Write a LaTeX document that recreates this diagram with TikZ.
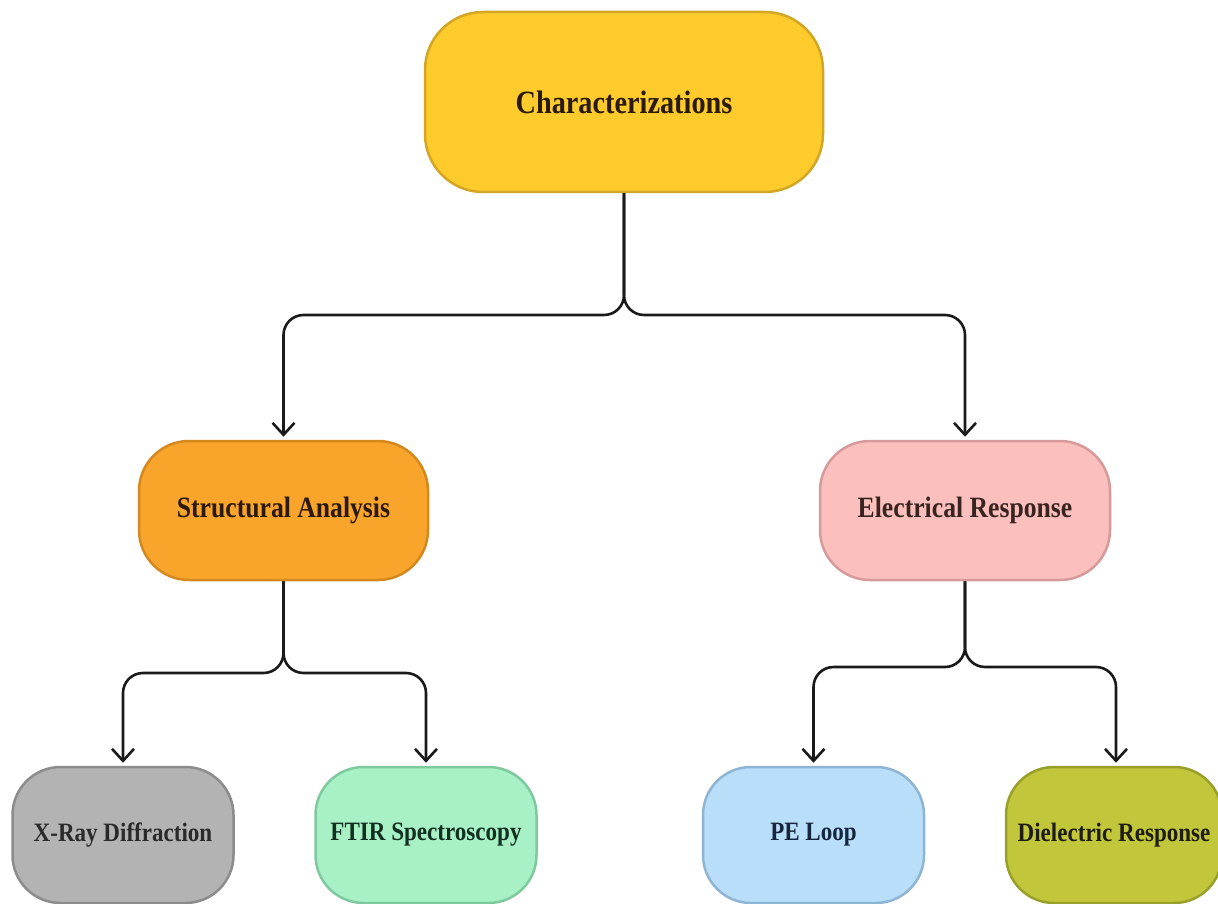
\documentclass[tikz,border=0pt]{standalone}
\usepackage{fontspec}
\newfontfamily\lbl[FakeStretch=0.87]{Liberation Serif}
\usetikzlibrary{arrows.meta}
\definecolor{topfill}{HTML}{FDCB2B}
\definecolor{topdraw}{HTML}{D3A626}
\definecolor{safill}{HTML}{F9A42B}
\definecolor{sadraw}{HTML}{D4891F}
\definecolor{erfill}{HTML}{FBC0BE}
\definecolor{erdraw}{HTML}{D69A9A}
\definecolor{xfill}{HTML}{B3B3B3}
\definecolor{xdraw}{HTML}{8C8C8C}
\definecolor{ffill}{HTML}{A8F0C6}
\definecolor{fdraw}{HTML}{7FC99F}
\definecolor{pfill}{HTML}{B9DEFA}
\definecolor{pdraw}{HTML}{8FB5D5}
\definecolor{dfill}{HTML}{C2C63A}
\definecolor{ddraw}{HTML}{98A02A}
\definecolor{linec}{HTML}{1A1A1A}
\definecolor{txtbrown}{HTML}{2B1A0C}
\definecolor{txter}{HTML}{3A2420}
\definecolor{txtgray}{HTML}{2A2A2A}
\definecolor{txtgreen}{HTML}{12301F}
\definecolor{txtblue}{HTML}{15263D}
\definecolor{txtdie}{HTML}{1E1C10}
\tikzset{
  box/.style={rectangle, inner sep=0pt, line width=2.5pt, font=\lbl\bfseries},
  topbox/.style={box, minimum width=398pt, minimum height=180pt, rounded corners=58pt, fill=topfill, draw=topdraw, text=txtbrown, font=\lbl\bfseries\fontsize{32.5}{32.5}\selectfont},
  midbox/.style={box, minimum width=289pt, minimum height=139pt, rounded corners=50pt, font=\lbl\bfseries\fontsize{29.5}{29.5}\selectfont},
  lowbox/.style={box, minimum width=221pt, minimum height=136pt, rounded corners=48pt, font=\lbl\bfseries\fontsize{26.5}{26.5}\selectfont},
  conn/.style={draw=linec, line width=2.6pt, rounded corners=20pt, -{Straight Barb[length=12pt,width=22pt]}, shorten >=3pt}
}
\begin{document}
\begin{tikzpicture}[x=1pt,y=-1pt]
\useasboundingbox (0,0) rectangle (1218,904);
\clip (0,0) rectangle (1218,904);
\fill[white] (0,0) rectangle (1218,904);
\node[topbox] (top) at (624,102) {Characterizations};
\node[midbox, fill=safill, draw=sadraw, text=txtbrown] (sa) at (283.5,510.5) {Structural Analysis};
\node[midbox, minimum width=290pt, fill=erfill, draw=erdraw, text=txter] (er) at (965,510.5) {Electrical Response};
\node[lowbox, fill=xfill, draw=xdraw, text=txtgray] (xrd) at (123,835) {X-Ray Diffraction};
\node[lowbox, fill=ffill, draw=fdraw, text=txtgreen] (ftir) at (426,835) {FTIR Spectroscopy};
\node[lowbox, fill=pfill, draw=pdraw, text=txtblue] (pe) at (813.5,835) {PE Loop};
\node[lowbox, minimum width=216pt, fill=dfill, draw=ddraw, text=txtdie] (die) at (1114,835) {Dielectric Response};
\coordinate (j1) at (624,315);
\coordinate (j2) at (283.5,673);
\coordinate (j3) at (965,667);
\draw[conn] (top.south) -- (j1) -| (sa.north);
\draw[conn] (top.south) -- (j1) -| (er.north);
\draw[conn] (sa.south) -- (j2) -| (xrd.north);
\draw[conn] (sa.south) -- (j2) -| (ftir.north);
\draw[conn] (er.south) -- (j3) -| (pe.north);
\draw[conn] (er.south) -- (j3) -| ([xshift=2pt]die.north);
\end{tikzpicture}
\end{document}
